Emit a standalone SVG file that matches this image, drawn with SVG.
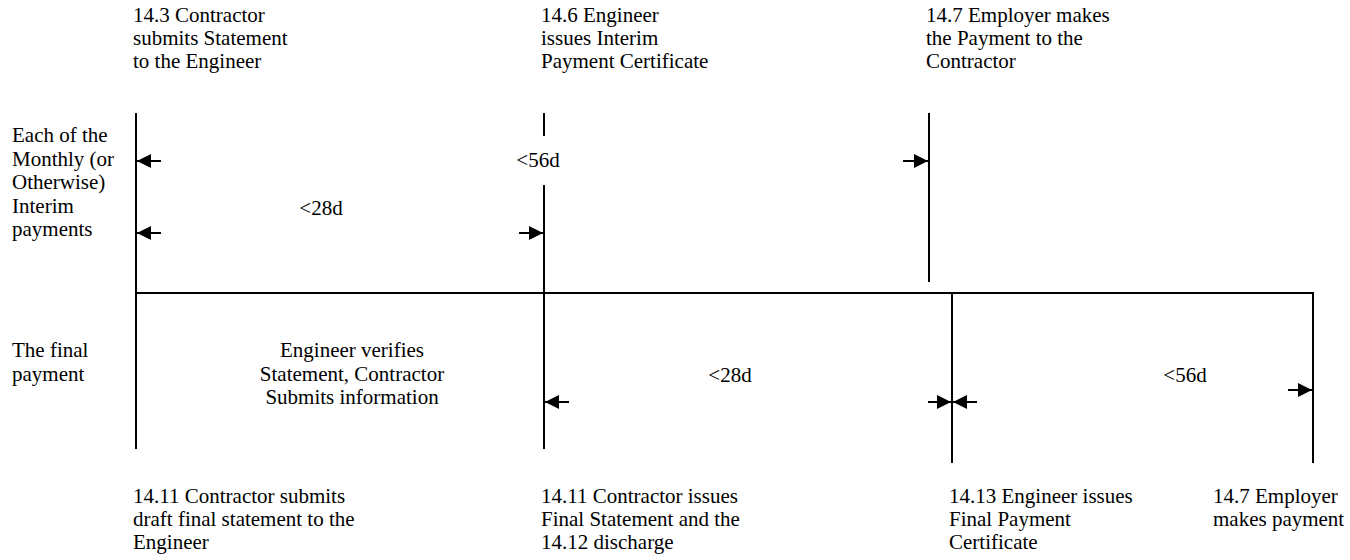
<svg xmlns="http://www.w3.org/2000/svg" width="1350" height="560" viewBox="0 0 1350 560">
<style>
text{font-family:"Liberation Serif",Tinos,"Times New Roman",Times,"Nimbus Roman","Noto Serif","DejaVu Serif",serif;font-size:21px;fill:#000}
.m{text-anchor:middle}
.ln{stroke:#000;stroke-width:2;fill:none}
.ar{stroke:#000;stroke-width:2;fill:none}
</style>
<defs>
<marker id="ah" viewBox="0 0 14 14" refX="14" refY="7" markerWidth="14" markerHeight="14" markerUnits="userSpaceOnUse" orient="auto">
<path d="M0,0 L14,7 L0,14 Z" fill="#000"/>
</marker>
</defs>
<rect width="1350" height="560" fill="#fff"/>
<g id="connectors">
<line class="ln" x1="136" y1="113" x2="136" y2="449"/>
<line class="ln" x1="135" y1="293" x2="1314" y2="293"/>
<line class="ln" x1="544" y1="113" x2="544" y2="136"/>
<line class="ln" x1="544" y1="185" x2="544" y2="449"/>
<line class="ln" x1="929" y1="113" x2="929" y2="282"/>
<line class="ln" x1="952" y1="293" x2="952" y2="463"/>
<line class="ln" x1="1313" y1="293" x2="1313" y2="463"/>
<line class="ar" x1="161" y1="161" x2="137" y2="161" marker-end="url(#ah)"/>
<line class="ar" x1="903" y1="161" x2="928" y2="161" marker-end="url(#ah)"/>
<line class="ar" x1="161" y1="233" x2="137" y2="233" marker-end="url(#ah)"/>
<line class="ar" x1="519" y1="233" x2="543" y2="233" marker-end="url(#ah)"/>
<line class="ar" x1="569" y1="402" x2="545" y2="402" marker-end="url(#ah)"/>
<line class="ar" x1="928" y1="402" x2="951" y2="402" marker-end="url(#ah)"/>
<line class="ar" x1="977" y1="402" x2="953" y2="402" marker-end="url(#ah)"/>
<line class="ar" x1="1288" y1="390" x2="1312" y2="390" marker-end="url(#ah)"/>
</g>
<g id="row-labels">
<text x="12" y="142">Each of the</text>
<text x="12" y="165.5">Monthly (or</text>
<text x="12" y="189">Otherwise)</text>
<text x="12" y="212.5">Interim</text>
<text x="12" y="236">payments</text>
<text x="12" y="357">The final</text>
<text x="12" y="380.5">payment</text>
</g>
<g id="n-14-3"><text x="133" y="22">14.3 Contractor</text><text x="133" y="45">submits Statement</text><text x="133" y="68">to the Engineer</text></g>
<g id="n-14-6"><text x="541" y="22">14.6 Engineer</text><text x="541" y="45">issues Interim</text><text x="541" y="68">Payment Certificate</text></g>
<g id="n-14-7a"><text x="926" y="22">14.7 Employer makes</text><text x="926" y="45">the Payment to the</text><text x="926" y="68">Contractor</text></g>
<g id="d-56a"><text class="m" x="538" y="167">&lt;56d</text></g>
<g id="d-28a"><text class="m" x="321" y="215">&lt;28d</text></g>
<g id="verify"><text class="m" x="352" y="357">Engineer verifies</text><text class="m" x="352" y="380.5">Statement, Contractor</text><text class="m" x="352" y="404">Submits information</text></g>
<g id="d-28b"><text class="m" x="730" y="382">&lt;28d</text></g>
<g id="d-56b"><text class="m" x="1185" y="382">&lt;56d</text></g>
<g id="n-14-11a"><text x="133" y="503">14.11 Contractor submits</text><text x="133" y="526">draft final statement to the</text><text x="133" y="549">Engineer</text></g>
<g id="n-14-11b"><text x="541" y="503">14.11 Contractor issues</text><text x="541" y="526">Final Statement and the</text><text x="541" y="549">14.12 discharge</text></g>
<g id="n-14-13"><text x="949" y="503">14.13 Engineer issues</text><text x="949" y="526">Final Payment</text><text x="949" y="549">Certificate</text></g>
<g id="n-14-7b"><text x="1213" y="503">14.7 Employer</text><text x="1213" y="526">makes payment</text></g>
</svg>
